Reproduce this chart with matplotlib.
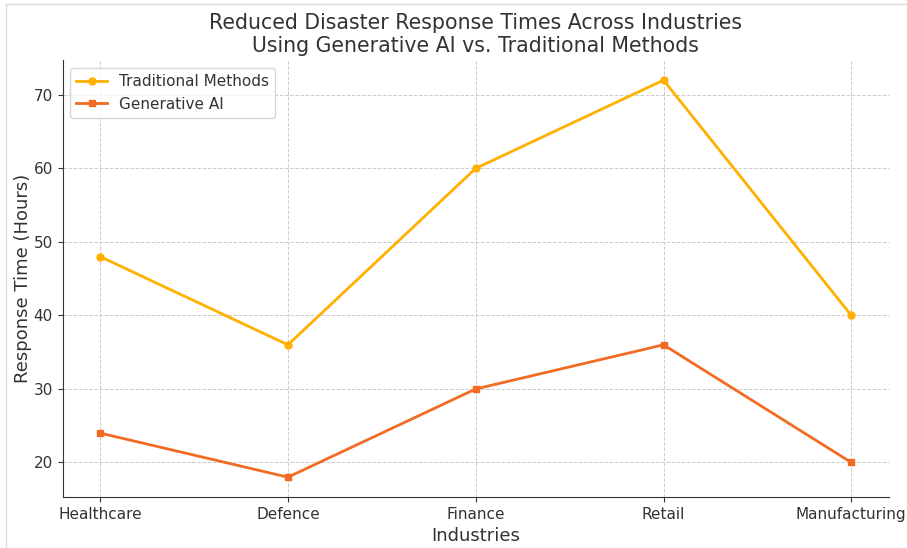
import matplotlib.pyplot as plt
from matplotlib.lines import Line2D

industries = ["Healthcare", "Defence", "Finance", "Retail", "Manufacturing"]
traditional = [48, 36, 60, 72, 40]
generative = [24, 18, 30, 36, 20]


def graphData():
    fig = plt.figure(figsize=(9.07, 5.48), dpi=100)
    ax = fig.add_axes([0.069, 0.093, 0.911, 0.797])

    # thin light frame lines along the top and left of the figure
    x0, y0 = 6 / 907, 1 - 4 / 548
    fig.add_artist(Line2D([x0, 1.0], [y0, y0], transform=fig.transFigure,
                          color="#dddddd", linewidth=1))
    fig.add_artist(Line2D([x0, x0], [0.0, y0], transform=fig.transFigure,
                          color="#dddddd", linewidth=1))

    ax.plot(industries, traditional, marker="o", markersize=5, linewidth=2,
            color="#FFB000", label="Traditional Methods")
    ax.plot(industries, generative, marker="s", markersize=5, linewidth=2,
            color="#F26B22", label="Generative AI")

    ax.set_title("Reduced Disaster Response Times Across Industries\n"
                 "Using Generative AI vs. Traditional Methods",
                 fontsize=14.8, color="#333333", pad=6)
    ax.set_xlabel("Industries", fontsize=13, color="#333333")
    ax.set_ylabel("Response Time (Hours)", fontsize=13, color="#333333", labelpad=1)
    ax.tick_params(labelsize=11, colors="#333333")

    ax.grid(True, linestyle="--", color="#cccccc", linewidth=0.7)
    ax.spines["top"].set_visible(False)
    ax.spines["right"].set_visible(False)
    ax.spines["left"].set_color("#333333")
    ax.spines["bottom"].set_color("#333333")

    leg = ax.legend(loc="upper left", fontsize=11)
    for t in leg.get_texts():
        t.set_color("#333333")

    fig.savefig("out.png", dpi=100)


def main():
    graphData()
    return 0


if __name__ == "__main__":
    main()
